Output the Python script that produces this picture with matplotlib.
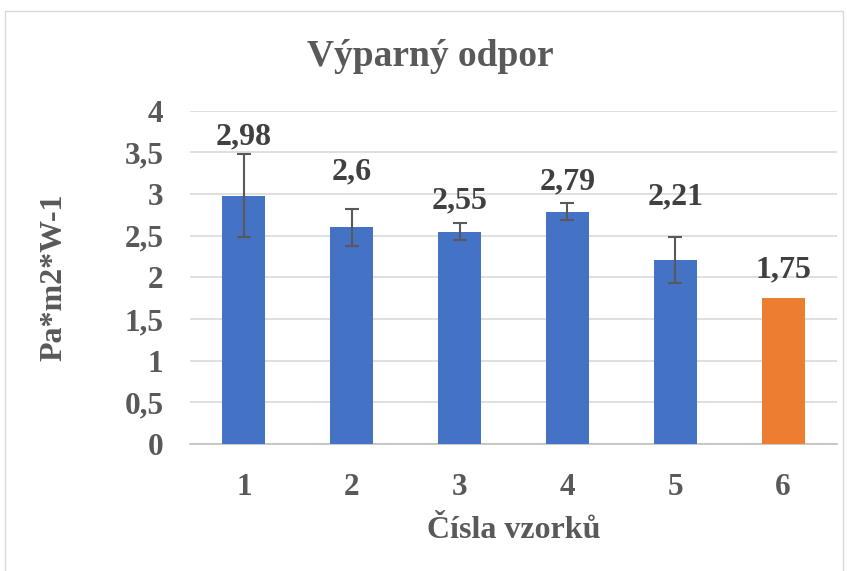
import matplotlib
matplotlib.use("Agg")
import matplotlib.pyplot as plt
from matplotlib.patches import Rectangle

# data
samples = ["1", "2", "3", "4", "5", "6"]
values = [2.98, 2.6, 2.55, 2.79, 2.21, 1.75]
errors = [0.5, 0.22, 0.1, 0.1, 0.28, 0.0]
labels = ["2,98", "2,6", "2,55", "2,79", "2,21", "1,75"]
yticks = [0, 0.5, 1, 1.5, 2, 2.5, 3, 3.5, 4]
ytick_labels = ["0", "0,5", "1", "1,5", "2", "2,5", "3", "3,5", "4"]
colors = ["#4472C4"] * 5 + ["#ED7D31"]

# how far above the bar top each data label sits (points)
label_offsets = [42, 40, 22, 21, 45, 20]

plt.rcParams["font.family"] = ["Liberation Serif", "DejaVu Serif"]
plt.rcParams["font.weight"] = "bold"

fig = plt.figure(figsize=(8.47, 5.71), dpi=100)
fig.patches.append(Rectangle((5 / 847, -0.1), 838 / 847, 1.1 - 11 / 571,
                             transform=fig.transFigure, fill=False,
                             edgecolor="#D9D9D9", linewidth=1.0))

ax = fig.add_axes([190 / 847, 1 - 444 / 571, 647 / 847, (444 - 110.7) / 571])
x = list(range(len(samples)))
ax.bar(x, values, width=0.4, color=colors, zorder=3)
ax.errorbar(x[:5], values[:5], yerr=errors[:5], fmt="none", ecolor="#595959",
            elinewidth=1.5, capsize=5, capthick=1.5, zorder=4)

for xi, v, lab, off in zip(x, values, labels, label_offsets):
    ax.annotate(lab, (xi, v), xytext=(0, off), textcoords="offset points",
                ha="center", va="center", fontsize=23, fontweight="bold",
                color="#404040")

ax.set_xlim(-0.5, 5.5)
ax.set_ylim(0, 4)
ax.set_xticks(x)
ax.set_xticklabels(samples)
ax.set_yticks(yticks)
ax.set_yticklabels(ytick_labels)
ax.tick_params(axis="both", length=0, labelsize=22.5, labelcolor="#595959")
ax.tick_params(axis="y", pad=19)
ax.tick_params(axis="x", pad=21)
ax.grid(axis="y", color="#D9D9D9", linewidth=1.2, zorder=0)
ax.set_axisbelow(True)
for s in ["top", "right", "left"]:
    ax.spines[s].set_visible(False)
ax.spines["bottom"].set_color("#BFBFBF")
ax.spines["bottom"].set_linewidth(1.2)

ax.set_xlabel("Čísla vzorků", fontsize=23, fontweight="bold", color="#595959",
              labelpad=10)
ax.set_ylabel("Pa*m2*W-1", fontsize=23, fontweight="bold", color="#595959",
              labelpad=40)
fig.text(0.508, 1 - 56 / 571, "Výparný odpor", ha="center", va="center",
         fontsize=27, fontweight="bold", color="#595959")

fig.savefig("out.png", dpi=100)
